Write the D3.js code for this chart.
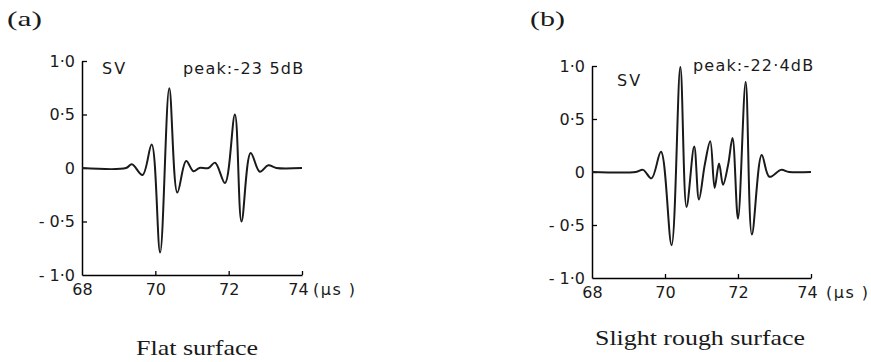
<!DOCTYPE html>
<html>
<head>
<meta charset="utf-8">
<script src="https://cdn.jsdelivr.net/npm/d3@7"></script>
<style>
  body { margin: 0; background: #fff; }
  svg { display: block; }
  .plot text { font-family: "DejaVu Sans", sans-serif; font-size: 16px; fill: #1a1a1a; }
  .caption { font-family: "Liberation Serif", "Times New Roman", serif; fill: #1a1a1a; }
</style>
</head>
<body>
<svg id="chart"></svg>
<script>
// Flat surface waveform (time in µs, normalised amplitude)
const timeA = [68, 69.2, 69.36, 69.65, 69.9, 70.13, 70.38, 70.6, 70.84, 71.04, 71.2, 71.45, 71.63, 71.9, 72.17, 72.35, 72.6, 72.85, 73.08, 73.3, 74];
const ampA  = [0, 0, 0.035, -0.065, 0.22, -0.79, 0.745, -0.23, 0.065, -0.03, 0, 0, 0.05, -0.14, 0.5, -0.5, 0.14, -0.035, 0.025, 0, 0];

// Slight rough surface waveform
const timeB = [68, 69.2, 69.4, 69.63, 69.89, 70.18, 70.42, 70.59, 70.8, 70.93, 71.09, 71.24, 71.36, 71.48, 71.59, 71.73, 71.85, 72.0, 72.21, 72.38, 72.65, 72.86, 73.18, 73.4, 74];
const ampB  = [0, 0, 0.02, -0.06, 0.19, -0.69, 0.99, -0.33, 0.24, -0.26, 0.07, 0.29, -0.15, 0.08, -0.12, 0.07, 0.32, -0.44, 0.85, -0.59, 0.16, -0.045, 0.02, 0, 0];

const xTicks = [68, 70, 72, 74];
const yTicks = [1, 0.5, 0, -0.5, -1];
const panelTags = ["(a)", "(b)"];
const peakLabels = ["peak:-23 5dB", "peak:-22·4dB"];
const captions = ["Flat surface", "Slight rough surface"];

const width = 871, height = 362;
const svg = d3.select("#chart").attr("width", width).attr("height", height);

// y tick label: 0.5 -> "0·5", -1 -> "- 1·0"
function fmtY(v) {
  if (v === 0) return "0";
  const s = Math.abs(v).toFixed(1).replace(".", "·");
  return v < 0 ? "- " + s : s;
}

const panels = [
  { t: timeA, a: ampA, x0: 82, x1: 302, yTop: 61, yBot: 275,
    tag: [7, 26], sv: [102, 74], peak: [183, 74], cap: [197, 355], capLen: 122, unitX: 313 },
  { t: timeB, a: ampB, x0: 592, x1: 811, yTop: 66, yBot: 278,
    tag: [530, 26], sv: [617, 86], peak: [693, 71], cap: [700, 345], capLen: 210, unitX: 826 }
];

panels.forEach((p, i) => {
  const g = svg.append("g").attr("class", "plot");

  const x = d3.scaleLinear().domain([68, 74]).range([p.x0, p.x1]);
  const y = d3.scaleLinear().domain([-1, 1]).range([p.yBot, p.yTop]);

  // y axis, ticks pointing inward
  const yAxis = g.append("g")
    .attr("transform", `translate(${p.x0},0)`)
    .call(d3.axisLeft(y).tickValues(yTicks).tickFormat(fmtY)
      .tickSizeInner(-5).tickSizeOuter(0).tickPadding(7));
  yAxis.select(".domain").attr("stroke-width", 1.5);
  yAxis.selectAll(".tick line").attr("stroke-width", 1.3);
  yAxis.selectAll(".tick").filter(d => d === -1).select("line").remove();

  // x axis
  const xAxis = g.append("g")
    .attr("transform", `translate(0,${p.yBot})`)
    .call(d3.axisBottom(x).tickValues(xTicks).tickFormat(d3.format("d"))
      .tickSizeInner(-4).tickSizeOuter(0).tickPadding(9));
  xAxis.select(".domain").attr("stroke-width", 1.5);
  xAxis.selectAll(".tick line").attr("stroke-width", 1.3);
  xAxis.selectAll(".tick").filter(d => d === 68).select("line").remove();
  xAxis.selectAll(".tick").filter(d => d === 74).select("text").attr("dx", -4);
  xAxis.selectAll(".tick text").attr("font-size", 16).attr("font-family", "DejaVu Sans, sans-serif");
  yAxis.selectAll(".tick text").attr("font-size", 16).attr("font-family", "DejaVu Sans, sans-serif");

  // unit after the last tick label
  g.append("text")
    .attr("x", p.unitX).attr("y", p.yBot + 9)
    .attr("dy", "0.71em")
    .attr("letter-spacing", 1.5)
    .text("(µs )");

  // waveform
  const pts = p.t.map((t, k) => [t, p.a[k]]);
  g.append("path")
    .datum(pts)
    .attr("fill", "none")
    .attr("stroke", "#1a1a1a")
    .attr("stroke-width", 2)
    .attr("stroke-linejoin", "round")
    .attr("d", d3.line().x(d => x(d[0])).y(d => y(d[1])).curve(d3.curveCatmullRom.alpha(0.5)));

  // in-plot labels
  g.append("text").attr("x", p.sv[0]).attr("y", p.sv[1]).attr("letter-spacing", 2).text("SV");
  g.append("text").attr("x", p.peak[0]).attr("y", p.peak[1]).attr("letter-spacing", 1.2).text(peakLabels[i]);

  // panel tag and caption
  svg.append("text").attr("class", "caption")
    .attr("x", p.tag[0]).attr("y", p.tag[1])
    .attr("font-size", 22)
    .attr("textLength", 35).attr("lengthAdjust", "spacingAndGlyphs")
    .text(panelTags[i]);
  svg.append("text").attr("class", "caption")
    .attr("x", p.cap[0] - p.capLen / 2).attr("y", p.cap[1])
    .attr("font-size", 22)
    .attr("textLength", p.capLen).attr("lengthAdjust", "spacingAndGlyphs")
    .text(captions[i]);
});
</script>
</body>
</html>
